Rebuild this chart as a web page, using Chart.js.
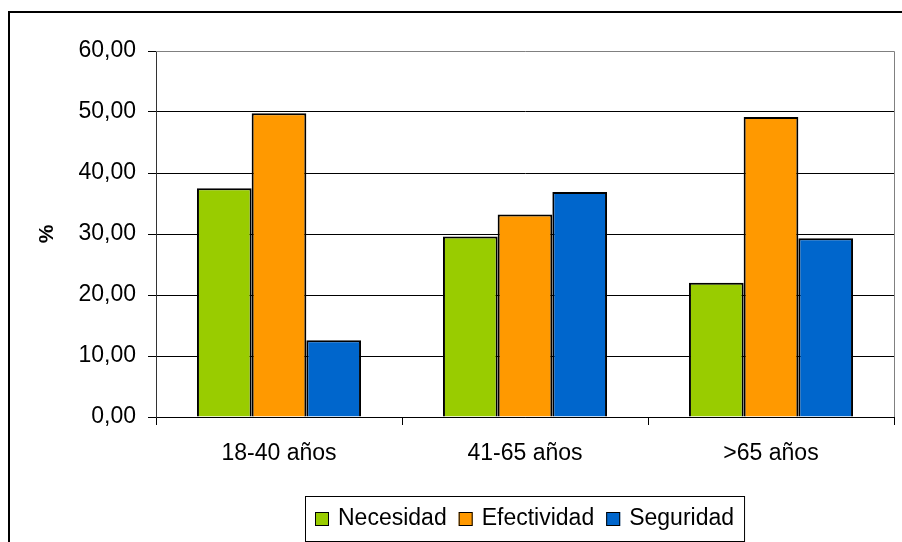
<!DOCTYPE html>
<html lang="es">
<head>
    <meta charset="UTF-8">
    <script src="https://cdn.jsdelivr.net/npm/chart.js"></script>
    <title>Necesidad, Efectividad, Seguridad</title>
    <style>
        body { margin: 0; background: #fff; }
    </style>
</head>
<body>
<canvas id="myChart" width="902" height="542"></canvas>
<script>
    const grupos = ['18-40 años', '41-65 años', '>65 años'];
    const necesidad = [37.5, 29.6, 22.0];
    const efectividad = [49.8, 33.2, 49.2];
    const seguridad = [12.6, 36.9, 29.3];
    const ejeY = { min: 0, max: 60, paso: 10 };

    const fuente = '"Liberation Sans", Arial, sans-serif';

    // marco exterior, borde del area de trazado y leyenda con recuadro
    const marcos = {
        id: 'marcos',
        afterDraw(chart) {
            const ctx = chart.ctx;
            const a = chart.chartArea;
            ctx.save();
            ctx.strokeStyle = '#000';
            ctx.lineWidth = 2;
            ctx.strokeRect(9, 12, 1000, 1000);

            ctx.strokeStyle = '#808080';
            ctx.lineWidth = 1;
            ctx.beginPath();
            ctx.moveTo(a.left, a.top + 0.5);
            ctx.lineTo(Math.round(a.right) + 0.5, a.top + 0.5);
            ctx.lineTo(Math.round(a.right) + 0.5, a.bottom);
            ctx.stroke();

            // leyenda
            ctx.font = '23px ' + fuente;
            ctx.textBaseline = 'middle';
            const items = chart.data.datasets.map(d => ({ t: d.label, c: d.backgroundColor, w: ctx.measureText(d.label).width }));
            const caja = 14, hueco = 9, sep = 12, pad = 10;
            let ancho = pad * 2 + sep * (items.length - 1);
            items.forEach(it => ancho += caja + hueco + it.w);
            const cx = (a.left + a.right) / 2;
            let x = Math.round(cx - ancho / 2);
            const top = 496, alto = 45, cy = top + alto / 2 + 0.5;
            ctx.strokeStyle = '#000';
            ctx.strokeRect(x + 0.5, top + 0.5, ancho, alto);
            x += pad;
            items.forEach(it => {
                ctx.fillStyle = it.c;
                ctx.fillRect(x, cy - caja / 2, caja, caja);
                ctx.strokeRect(x + 0.5, cy - caja / 2 + 0.5, caja - 1, caja - 1);
                ctx.fillStyle = '#000';
                ctx.fillText(it.t, x + caja + hueco, cy);
                x += caja + hueco + it.w + sep;
            });
            ctx.restore();
        }
    };

    new Chart(document.getElementById('myChart'), {
        type: 'bar',
        data: {
            labels: grupos,
            datasets: [
                { label: 'Necesidad', data: necesidad, backgroundColor: '#99CC00' },
                { label: 'Efectividad', data: efectividad, backgroundColor: '#FF9900' },
                { label: 'Seguridad', data: seguridad, backgroundColor: '#0066CC' }
            ]
        },
        options: {
            responsive: false,
            animation: false,
            layout: { padding: { top: 51, left: 10, right: 8, bottom: 0 } },
            datasets: {
                bar: {
                    categoryPercentage: 0.667,
                    barPercentage: 1,
                    borderColor: '#000',
                    borderWidth: 2
                }
            },
            plugins: {
                legend: { display: false },
                tooltip: { enabled: false }
            },
            scales: {
                x: {
                    afterFit(scale) { scale.height = 125; },
                    grid: { drawOnChartArea: false, drawTicks: true, tickLength: 8, color: '#000' },
                    border: { display: true, color: '#000' },
                    ticks: { color: '#000', padding: 15, font: { family: fuente, size: 23 } }
                },
                y: {
                    min: ejeY.min,
                    max: ejeY.max,
                    afterFit(scale) { scale.width = 146; },
                    grid: {
                        color: c => c.tick.value === ejeY.max ? 'rgba(0,0,0,0)' : '#000',
                        tickColor: '#000',
                        tickLength: 8
                    },
                    border: { display: true, color: '#333' },
                    ticks: {
                        stepSize: ejeY.paso,
                        color: '#000',
                        padding: 12,
                        font: { family: fuente, size: 23 },
                        callback: v => v.toFixed(2).replace('.', ',')
                    },
                    title: {
                        display: true,
                        text: '%',
                        color: '#000',
                        padding: { top: 25, bottom: 0 },
                        font: { family: fuente, size: 21, weight: 'bold' }
                    }
                }
            }
        },
        plugins: [marcos]
    });
</script>
</body>
</html>
